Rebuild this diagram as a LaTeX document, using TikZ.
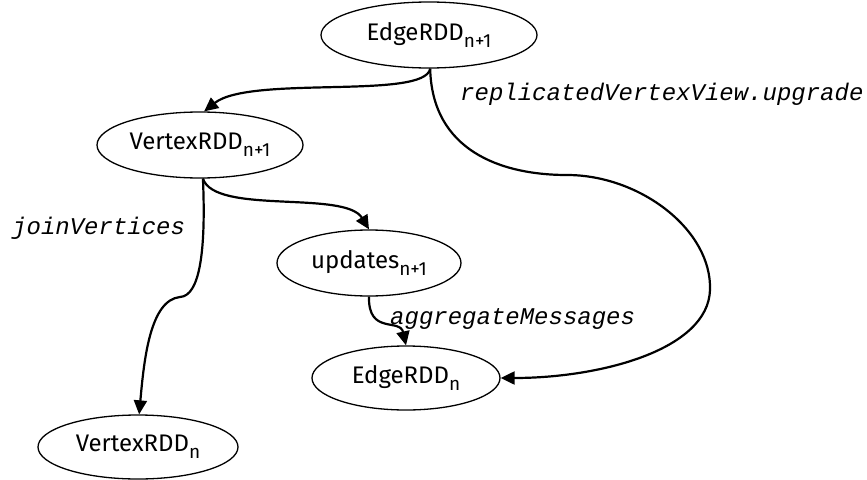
\documentclass[tikz,border=0pt]{standalone}
\usepackage{fontspec}
\setmainfont{Fira Sans}
\newfontfamily\codefont{Liberation Mono}
\usepackage{tikz}
\usetikzlibrary{shapes.geometric,arrows.meta}

\newcommand{\rddsub}[1]{\raisebox{-7pt}{\fontsize{19}{20}\selectfont #1}}

\tikzset{
  rdd/.style={draw, ellipse, line width=1.3pt, inner sep=0pt,
    font=\fontsize{24}{26}\selectfont},
  flow/.style={line width=2.2pt, -{Triangle[length=14pt, width=13pt]}},
  op/.style={anchor=west, inner sep=0pt,
    font=\codefont\itshape\fontsize{24}{26}\selectfont},
}

\begin{document}
\begin{tikzpicture}[x=1pt, y=-1pt]
  \useasboundingbox (0,0) rectangle (867,479);

  % vertices
  \node[rdd, minimum width=216, minimum height=66] (edgeNext) at (429, 35) {EdgeRDD\rddsub{n+1}};
  \node[rdd, minimum width=206, minimum height=66] (vertexNext) at (200, 145) {VertexRDD\rddsub{n+1}};
  \node[rdd, minimum width=184, minimum height=66] (updatesNext) at (369, 263) {updates\rddsub{n+1}};
  \node[rdd, minimum width=188, minimum height=64] (edgeCur) at (406, 378) {EdgeRDD\rddsub{n}};
  \node[rdd, minimum width=200, minimum height=64] (vertexCur) at (138, 447) {VertexRDD\rddsub{n}};

  % draw diagram
  \draw[flow] (edgeNext.-88) .. controls (425, 100) and (250, 75) .. (vertexNext.83);
  \draw[flow] (edgeNext.-88) .. controls (432, 150) and (500, 175) .. (567, 175)
    .. controls (640, 175) and (712, 230) .. (710, 290)
    .. controls (708, 350) and (600, 378) .. (edgeCur.east);
  \draw[flow] (vertexNext.-85) .. controls (215, 215) and (345, 190) .. (updatesNext.north);
  \draw[flow] (vertexNext.-85) .. controls (206, 250) and (200, 296) .. (180, 297)
    .. controls (150, 300) and (144, 360) .. (vertexCur.88);
  \draw[flow] (updatesNext.south) .. controls (368, 335) and (400, 318) .. (edgeCur.north);

  % labels
  \node[op] (upgradeLbl) at (460, 94) {replicatedVertexView.upgrade};
  \node[op] (joinLbl) at (12, 228) {joinVertices};
  \node[op] (aggLbl) at (390, 319) {aggregateMessages};
\end{tikzpicture}
\end{document}
